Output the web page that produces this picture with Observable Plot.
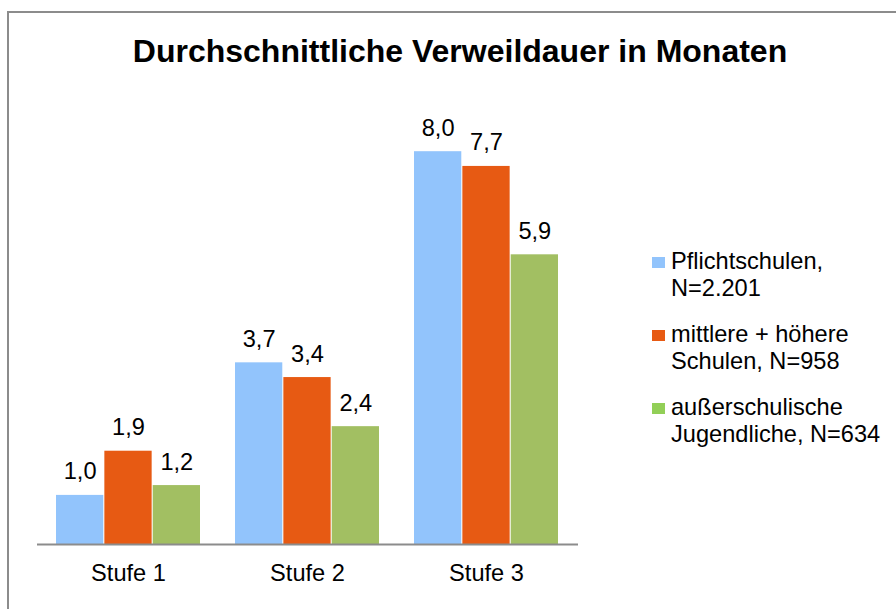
<!DOCTYPE html>
<html>
<head>
<meta charset="utf-8">
<script src="https://cdn.jsdelivr.net/npm/d3@7"></script>
<script src="https://cdn.jsdelivr.net/npm/@observablehq/plot@0.6"></script>
<style>
  html, body { margin: 0; padding: 0; background: #fff; }
  body { width: 896px; height: 609px; overflow: hidden; position: relative; font-family: "Liberation Sans", Arial, sans-serif; color: #000; }
  #frame { position: absolute; left: 7px; top: 11px; width: 1000px; height: 1000px; border-left: 2px solid #8c8c8c; border-top: 2px solid #8c8c8c; box-sizing: border-box; }
  #title { position: absolute; left: 24px; width: 872px; top: 35px; text-align: center; font-weight: bold; font-size: 32px; line-height: 32px; }
  #chart { position: absolute; left: 0; top: 0; }
  #legend { position: absolute; left: 652px; top: 248px; font-size: 23.6px; line-height: 27px; }
  .item { display: flex; align-items: flex-start; margin-bottom: 19px; }
  .sw { width: 13px; height: 11px; margin-top: 9px; margin-right: 6px; flex: none; }
</style>
</head>
<body>
<div id="frame"></div>
<div id="chart"></div>
<div id="title">Durchschnittliche Verweildauer in Monaten</div>
<div id="legend"></div>
<script>
const stufen = ["Stufe 1", "Stufe 2", "Stufe 3"];
const seriesNames = ["Pflichtschulen, N=2.201", "mittlere + höhere Schulen, N=958", "außerschulische Jugendliche, N=634"];
const legendLines = [["Pflichtschulen,", "N=2.201"], ["mittlere + höhere", "Schulen, N=958"], ["außerschulische", "Jugendliche, N=634"]];
const pflichtschulen = [1.0, 3.7, 8.0];
const mittlereHoehere = [1.9, 3.4, 7.7];
const ausserschulische = [1.2, 2.4, 5.9];
const barColors = ["#92c4fc", "#e75a13", "#a2bf62"];
const legendColors = ["#92c4fc", "#e75a13", "#92cf57"];

const seriesValues = [pflichtschulen, mittlereHoehere, ausserschulische];
const data = [];
seriesValues.forEach((vals, i) => vals.forEach((v, j) => data.push({stufe: stufen[j], series: seriesNames[i], idx: i, value: v})));

const W = 896, H = 609, mL = 37, mR = 318, mT = 53, mB = 65;
const pIn = 0.194, pOut = 0.1;
const step = (W - mL - mR) / (stufen.length - pIn + 2 * pOut);
const bw = step * (1 - pIn);
const sub = bw / 3;
const fmt = v => v.toFixed(1).replace(".", ",");

const marks = [];
seriesNames.forEach((s, i) => {
  const rows = data.filter(d => d.idx === i);
  marks.push(Plot.barY(rows, {x: "stufe", y: "value", fill: barColors[i], insetLeft: i * sub, insetRight: (2 - i) * sub}));
});
marks.push(Plot.ruleY([0], {stroke: "#8c8c8c", strokeWidth: 2}));
seriesNames.forEach((s, i) => {
  const rows = data.filter(d => d.idx === i);
  marks.push(Plot.text(rows, {x: "stufe", y: "value", text: d => fmt(d.value), dx: (i - 1) * sub, dy: -16, lineAnchor: "bottom", fontSize: 23.6, fill: "#000"}));
});
marks.push(Plot.axisX({tickSize: 0, tickPadding: 20, fontSize: 23.6, fill: "#000"}));

const chart = Plot.plot({
  width: W, height: H,
  marginLeft: mL, marginRight: mR, marginTop: mT, marginBottom: mB,
  style: {fontFamily: "Liberation Sans, Arial, sans-serif", fontSize: "23.6px", background: "transparent", color: "#000", overflow: "visible"},
  x: {domain: stufen, paddingInner: pIn, paddingOuter: pOut, label: null},
  y: {domain: [0, 10], axis: null},
  marks
});
document.getElementById("chart").appendChild(chart);

const legend = document.getElementById("legend");
legendLines.forEach((lines, i) => {
  const item = document.createElement("div");
  item.className = "item";
  const sw = document.createElement("div");
  sw.className = "sw";
  sw.style.background = legendColors[i];
  const txt = document.createElement("div");
  lines.forEach(l => { const d = document.createElement("div"); d.textContent = l; txt.appendChild(d); });
  item.appendChild(sw);
  item.appendChild(txt);
  legend.appendChild(item);
});
</script>
</body>
</html>
